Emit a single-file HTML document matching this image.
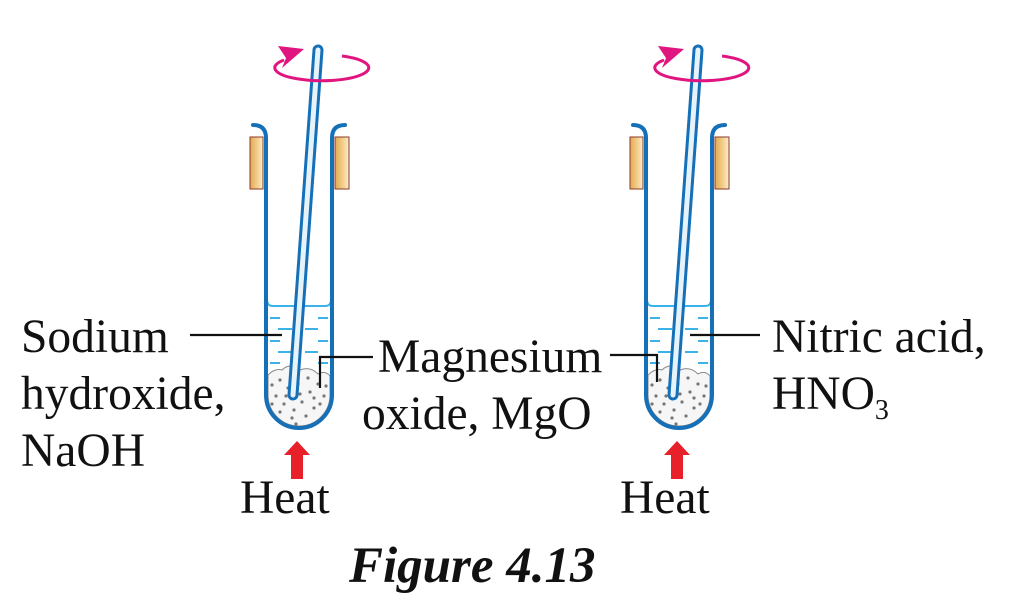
<!DOCTYPE html>
<html><head><meta charset="utf-8"><style>
html,body{margin:0;padding:0;background:#fff;}
svg{display:block;}
text{font-family:"Liberation Serif",serif;fill:#111;}
</style></head><body>
<svg width="1010" height="614" viewBox="0 0 1010 614" xmlns="http://www.w3.org/2000/svg">
<defs>
<linearGradient id="pad" x1="0" x2="1">
<stop offset="0" stop-color="#e2aa52"/><stop offset="0.6" stop-color="#f3d190"/><stop offset="1" stop-color="#fbeed0"/>
</linearGradient>
<g id="tube">
  <path d="M267 305 L331 305 L331 395 A32 32 0 0 1 267 395 Z" fill="#ffffff"/>
  <path d="M267 300 Q267 306 273 306 L325 306 Q331 306 331 300" fill="none" stroke="#3bb3e8" stroke-width="2"/>
  <g stroke="#3bb3e8" stroke-width="2">
    <line x1="270" y1="318" x2="280" y2="318"/><line x1="318" y1="318" x2="328" y2="318"/>
    <line x1="278" y1="329" x2="292" y2="329"/><line x1="305" y1="329" x2="318" y2="329"/>
    <line x1="270" y1="341" x2="280" y2="341"/><line x1="318" y1="341" x2="328" y2="341"/>
    <line x1="278" y1="352" x2="292" y2="352"/><line x1="305" y1="352" x2="318" y2="352"/>
    <line x1="270" y1="363" x2="280" y2="363"/><line x1="318" y1="363" x2="328" y2="363"/>
  </g>
  <path d="M268 375 Q275 368 282 370 Q290 362 300 370 Q310 366 318 374 Q325 370 330 376 L330 395 A31 31 0 0 1 268 395 Z" fill="#f6f6f6" stroke="#888" stroke-width="1"/>
  <g fill="#777">
    <circle cx="272" cy="385" r="1.6"/><circle cx="280" cy="380" r="1.6"/><circle cx="288" cy="388" r="1.6"/><circle cx="276" cy="396" r="1.6"/>
    <circle cx="284" cy="404" r="1.6"/><circle cx="294" cy="410" r="1.6"/><circle cx="302" cy="402" r="1.6"/><circle cx="310" cy="392" r="1.6"/>
    <circle cx="318" cy="384" r="1.6"/><circle cx="324" cy="396" r="1.6"/><circle cx="314" cy="408" r="1.6"/><circle cx="306" cy="416" r="1.6"/>
    <circle cx="292" cy="418" r="1.6"/><circle cx="280" cy="412" r="1.6"/><circle cx="298" cy="384" r="1.6"/><circle cx="308" cy="378" r="1.6"/>
    <circle cx="320" cy="404" r="1.6"/><circle cx="286" cy="396" r="1.6"/><circle cx="300" cy="394" r="1.6"/><circle cx="314" cy="398" r="1.6"/>
    <circle cx="272" cy="404" r="1.6"/><circle cx="326" cy="386" r="1.6"/><circle cx="296" cy="424" r="1.6"/>
  </g>
  <path d="M253 125 Q266 125 266 138 L266 395 A33 33 0 0 0 332 395 L332 138 Q332 125 345 125" fill="none" stroke="#1570b8" stroke-width="4" stroke-linecap="round"/>
  <rect x="250" y="137" width="13" height="52" fill="url(#pad)" stroke="#8b3a2a" stroke-width="1"/>
  <rect x="335" y="137" width="14" height="52" fill="url(#pad)" stroke="#8b3a2a" stroke-width="1"/>
  <line x1="318" y1="50" x2="293" y2="395" stroke="#1570b8" stroke-width="11" stroke-linecap="round"/>
  <line x1="318" y1="50" x2="293" y2="395" stroke="#e6f3fb" stroke-width="5" stroke-linecap="round"/>
  <path d="M342 56 A47 13 0 1 1 284 60" fill="none" stroke="#e0157f" stroke-width="3"/>
  <polygon points="278,46 304,49 282,68 286,58" fill="#e0157f"/>
  <polygon points="297,441 310,455 303,455 303,479 291,479 291,455 284,455" fill="#e8202a"/>
</g>
</defs>
<use href="#tube"/>
<use href="#tube" transform="translate(380,0)"/>
<g stroke="#111" stroke-width="2.2" fill="none">
  <line x1="190" y1="335" x2="282" y2="335"/>
  <polyline points="320,388 320,357 373,357"/>
  <polyline points="610,355 657,355 657,382"/>
  <line x1="690" y1="335" x2="760" y2="335"/>
</g>
<g font-size="47.5">
  <text x="21" y="352">Sodium</text>
  <text x="21" y="409">hydroxide,</text>
  <text x="21" y="466">NaOH</text>
  <text x="378" y="372">Magnesium</text>
  <text x="362" y="429">oxide, MgO</text>
  <text x="240" y="513">Heat</text>
  <text x="620" y="513">Heat</text>
  <text x="772" y="352">Nitric acid,</text>
  <text x="772" y="409">HNO<tspan font-size="28" dy="10">3</tspan></text>
</g>
<text x="349" y="582" font-size="51" font-weight="bold" font-style="italic">Figure 4.13</text>
</svg>
</body></html>
